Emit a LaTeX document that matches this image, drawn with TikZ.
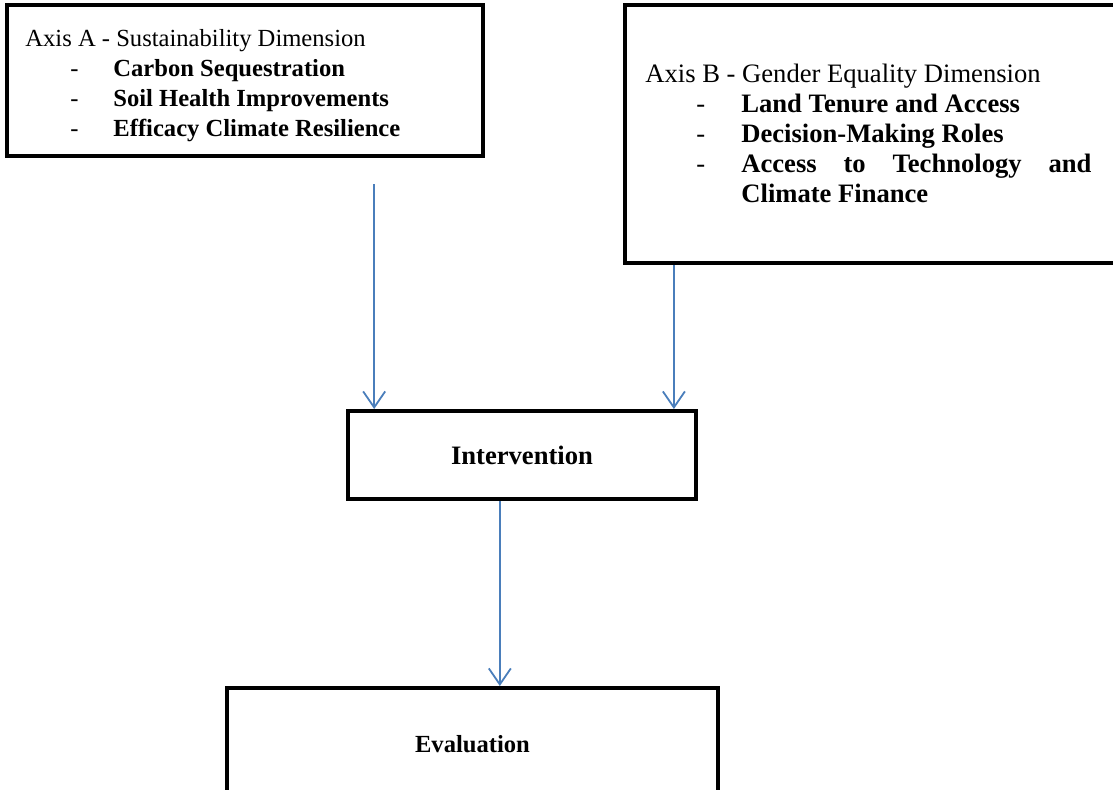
\documentclass[tikz,border=0pt]{standalone}
\usepackage{fontspec}
\setmainfont{Liberation Serif}
\usetikzlibrary{arrows.meta,calc}
\definecolor{arrowblue}{HTML}{4A7EBB}
\tikzset{
  box/.style={draw, rectangle, line width=2pt, inner sep=0pt, font=\fontsize{12.3}{15}\selectfont\bfseries},
  txt/.style={inner sep=0pt, anchor=west, font=\fontsize{12.3}{15}\selectfont},
  flow/.style={draw=arrowblue, line width=0.9pt, -{Straight Barb[length=8pt,width=11pt]}}
}
\begin{document}
\begin{tikzpicture}[x=0.5pt, y=-0.5pt]
  \useasboundingbox (0,0) rectangle (1113,789);
  \clip (0,0) rectangle (1113,789);

  \node[box, minimum width=238pt, minimum height=75.5pt] (axisA) at (245,80.5) {};
  \node[box, minimum width=250pt, minimum height=129pt] (axisB) at (875,134) {};
  \node[box, minimum width=174pt, minimum height=44pt, font=\fontsize{13.3}{15}\selectfont\bfseries] (interv) at (522,455) {Intervention};
  \node[box, minimum width=245.5pt, minimum height=56pt] (eval) at (472.5,744) {Evaluation};

  \node[txt] (textA) at ([xshift=10pt,yshift=-2.5pt]axisA.west) {%
    \begin{tabular}{@{}p{22.5pt}@{}p{21.5pt}@{}l@{}}
      \multicolumn{3}{@{}l@{}}{Axis A - Sustainability Dimension}\\
      & - & \textbf{Carbon Sequestration}\\
      & - & \textbf{Soil Health Improvements}\\
      & - & \textbf{Efficacy Climate Resilience}
    \end{tabular}};
  \node[txt, font=\fontsize{13.3}{15}\selectfont] (textB) at ([xshift=11pt,yshift=-1pt]axisB.west) {%
    \begin{tabular}{@{}p{25.5pt}@{}p{22.5pt}@{}p{175pt}@{}}
      \multicolumn{3}{@{}l@{}}{Axis B - Gender Equality Dimension}\\
      & - & \textbf{Land Tenure and Access}\\
      & - & \textbf{Decision-Making Roles}\\
      & - & \hyphenpenalty=10000\tolerance=10000\textbf{Access to Technology and Climate Finance}
    \end{tabular}};

  \coordinate (inA) at ($(interv.north west)!0.08!(interv.north east)$);
  \coordinate (inB) at ($(interv.north west)!0.9315!(interv.north east)$);
  \coordinate (outI) at ($(interv.south west)!0.437!(interv.south east)$);

  \draw[flow] ([yshift=-13pt]axisA.south -| inA) -- (inA);
  \draw[flow] (axisB.south -| inB) -- (inB);
  \draw[flow] (outI) -- (outI |- eval.north);
\end{tikzpicture}
\end{document}
